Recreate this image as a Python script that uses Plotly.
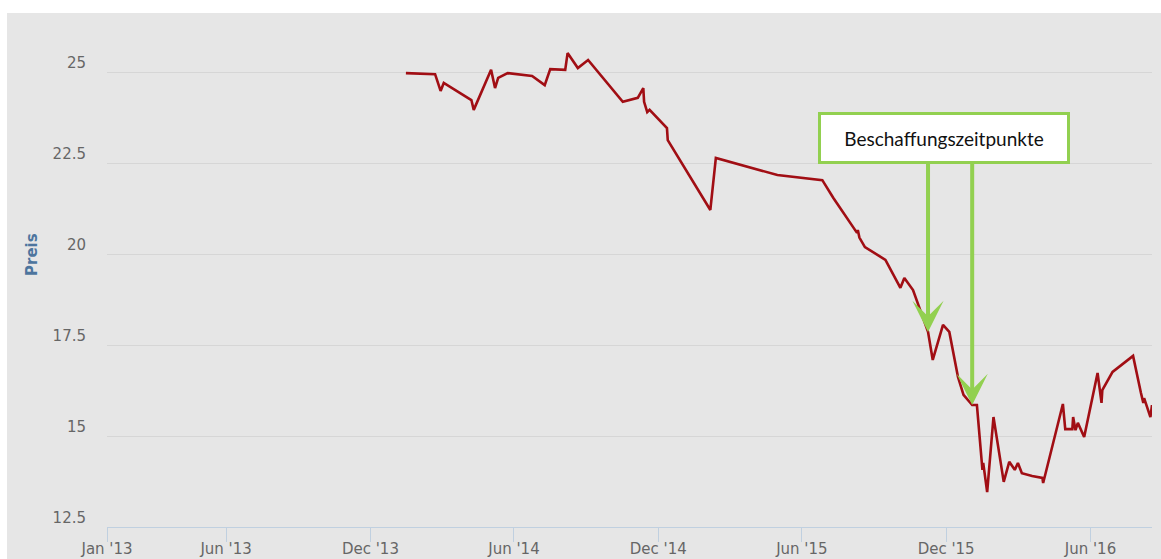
import plotly.graph_objects as go

# ---- data ----
dates = [
    "2014-01-15", "2014-02-21", "2014-02-28", "2014-03-04", "2014-04-08", "2014-04-11",
    "2014-05-03", "2014-05-08", "2014-05-12", "2014-05-24", "2014-06-24", "2014-07-10",
    "2014-07-17", "2014-08-05", "2014-08-08", "2014-08-21", "2014-09-03", "2014-10-17",
    "2014-11-05", "2014-11-12", "2014-11-13", "2014-11-17", "2014-11-20", "2014-12-12",
    "2014-12-13", "2015-02-05", "2015-02-12", "2015-05-01", "2015-06-27", "2015-07-11",
    "2015-08-10", "2015-08-11", "2015-08-13", "2015-08-20", "2015-09-15", "2015-10-04",
    "2015-10-09", "2015-10-20", "2015-11-08", "2015-11-14", "2015-11-27", "2015-12-05",
    "2015-12-16", "2015-12-23", "2016-01-03", "2016-01-09", "2016-01-16", "2016-01-17",
    "2016-01-22", "2016-01-30", "2016-02-12", "2016-02-19", "2016-02-26", "2016-03-01",
    "2016-03-06", "2016-03-19", "2016-04-01", "2016-04-02", "2016-04-27", "2016-04-30",
    "2016-05-09", "2016-05-10", "2016-05-13", "2016-05-16", "2016-05-24", "2016-06-10",
    "2016-06-15", "2016-06-16", "2016-06-29", "2016-07-25", "2016-08-04", "2016-08-07",
    "2016-08-08", "2016-08-16", "2016-08-18",
]
prices = [
    24.97, 24.94, 24.48, 24.70, 24.23, 23.96,
    25.06, 24.56, 24.84, 24.97, 24.89, 24.64,
    25.08, 25.06, 25.52, 25.11, 25.33, 24.18,
    24.29, 24.56, 24.18, 23.90, 23.96, 23.46,
    23.13, 21.21, 22.64, 22.17, 22.03, 21.54,
    20.58, 20.66, 20.45, 20.19, 19.84, 19.07,
    19.34, 19.01, 17.86, 17.09, 18.05, 17.86,
    16.62, 16.13, 15.85, 15.85, 14.07, 14.26,
    13.46, 15.52, 13.74, 14.29, 14.07, 14.26,
    13.98, 13.90, 13.85, 13.71, 15.88, 15.19,
    15.19, 15.52, 15.16, 15.36, 14.97, 16.73,
    15.91, 16.26, 16.76, 17.20, 16.18, 15.91,
    16.04, 15.52, 15.85,
]
x_tick_vals = ["2013-01-01", "2013-06-01", "2013-12-01", "2014-06-01",
               "2014-12-01", "2015-06-01", "2015-12-01", "2016-06-01"]
x_tick_text = ["Jan '13", "Jun '13", "Dec '13", "Jun '14",
               "Dec '14", "Jun '15", "Dec '15", "Jun '16"]
y_tick_vals = [12.5, 15, 17.5, 20, 22.5, 25]
y_tick_text = ["12.5", "15", "17.5", "20", "22.5", "25"]
purchase_idx = [38, 44]          # indices of the purchase points (Beschaffungszeitpunkte)
label_text = "Beschaffungszeitpunkte"
y_title = "Preis"

# ---- layout geometry (pixels) ----
W, H = 1161, 559
L, R, T, B = 107, 9, 20, 32
PW, PH = W - L - R, H - T - B


def px_x(px):
    return (px - L) / PW


def px_y(py):
    return (H - B - py) / PH


GREEN = "#92d050"
LINE_RED = "#a10e14"

fig = go.Figure()
fig.add_trace(go.Scatter(
    x=dates, y=prices, mode="lines",
    line=dict(color=LINE_RED, width=2.6),
    showlegend=False, hoverinfo="x+y",
))

# grey panel background
fig.add_shape(type="rect", xref="paper", yref="paper",
              x0=px_x(7), x1=px_x(W + 5), y0=px_y(H + 5), y1=px_y(13),
              fillcolor="#e6e6e6", line=dict(width=0), layer="below")

# y-axis title (Highcharts centres it on a taller plot area)
fig.add_annotation(
    xref="paper", yref="paper", x=px_x(32), y=px_y(255),
    xanchor="center", yanchor="middle", textangle=-90,
    text="<b>" + y_title + "</b>", showarrow=False,
    font=dict(family="DejaVu Sans, sans-serif", size=15, color="#4d759e"),
)

# arrows first (tails hidden under the label box drawn afterwards)
tail_y = 150
tips_y = [332, 405]
for i, ty in zip(purchase_idx, tips_y):
    fig.add_annotation(
        x=dates[i], y=prices[i], xref="x", yref="y",
        text="", showarrow=True, ax=0, ay=-(ty - tail_y),
        arrowhead=3, arrowsize=1.3, arrowwidth=4, arrowcolor=GREEN,
        standoff=0, startstandoff=0,
    )

# label box
box_cx, box_cy = 944, 138
fig.add_annotation(
    xref="paper", yref="paper", x=px_x(box_cx), y=px_y(box_cy),
    xanchor="center", yanchor="middle",
    text=label_text, showarrow=False,
    font=dict(family="Lato, Liberation Sans, sans-serif", size=19, color="#111111"),
    bgcolor="white", bordercolor=GREEN, borderwidth=3, borderpad=0,
    width=246, height=46,
)

fig.update_layout(
    width=W, height=H,
    margin=dict(l=L, r=R, t=T, b=B, pad=0),
    paper_bgcolor="white",
    plot_bgcolor="rgba(0,0,0,0)",
    font=dict(family="DejaVu Sans, sans-serif", size=15, color="#666666"),
    xaxis=dict(
        type="date", range=["2013-01-01", "2016-08-18"], autorange=False,
        automargin=False,
        tickmode="array", tickvals=x_tick_vals, ticktext=x_tick_text,
        showgrid=False, zeroline=False,
        showline=True, linecolor="#c0d0e0", linewidth=1,
        ticks="outside", ticklen=14, tickcolor="#c0d0e0", tickwidth=1,
        ticklabelstandoff=-6,
        tickfont=dict(family="DejaVu Sans, sans-serif", size=15, color="#666666"),
    ),
    yaxis=dict(
        range=[12.5, 12.5 + PH / 36.4], autorange=False,
        automargin=False,
        tickmode="array", tickvals=y_tick_vals, ticktext=y_tick_text,
        showgrid=True, gridcolor="#d6d6d6", gridwidth=1,
        zeroline=False, showline=False, ticks="",
        ticklabelstandoff=20, ticklabelshift=-9,
        tickfont=dict(family="DejaVu Sans, sans-serif", size=15, color="#666666"),
    ),
)

fig.write_html(
    "out.html",
    config={"displayModeBar": False},
    post_script="document.body.style.margin='0';document.body.style.padding='0';"
                "document.body.style.overflow='hidden';",
)
